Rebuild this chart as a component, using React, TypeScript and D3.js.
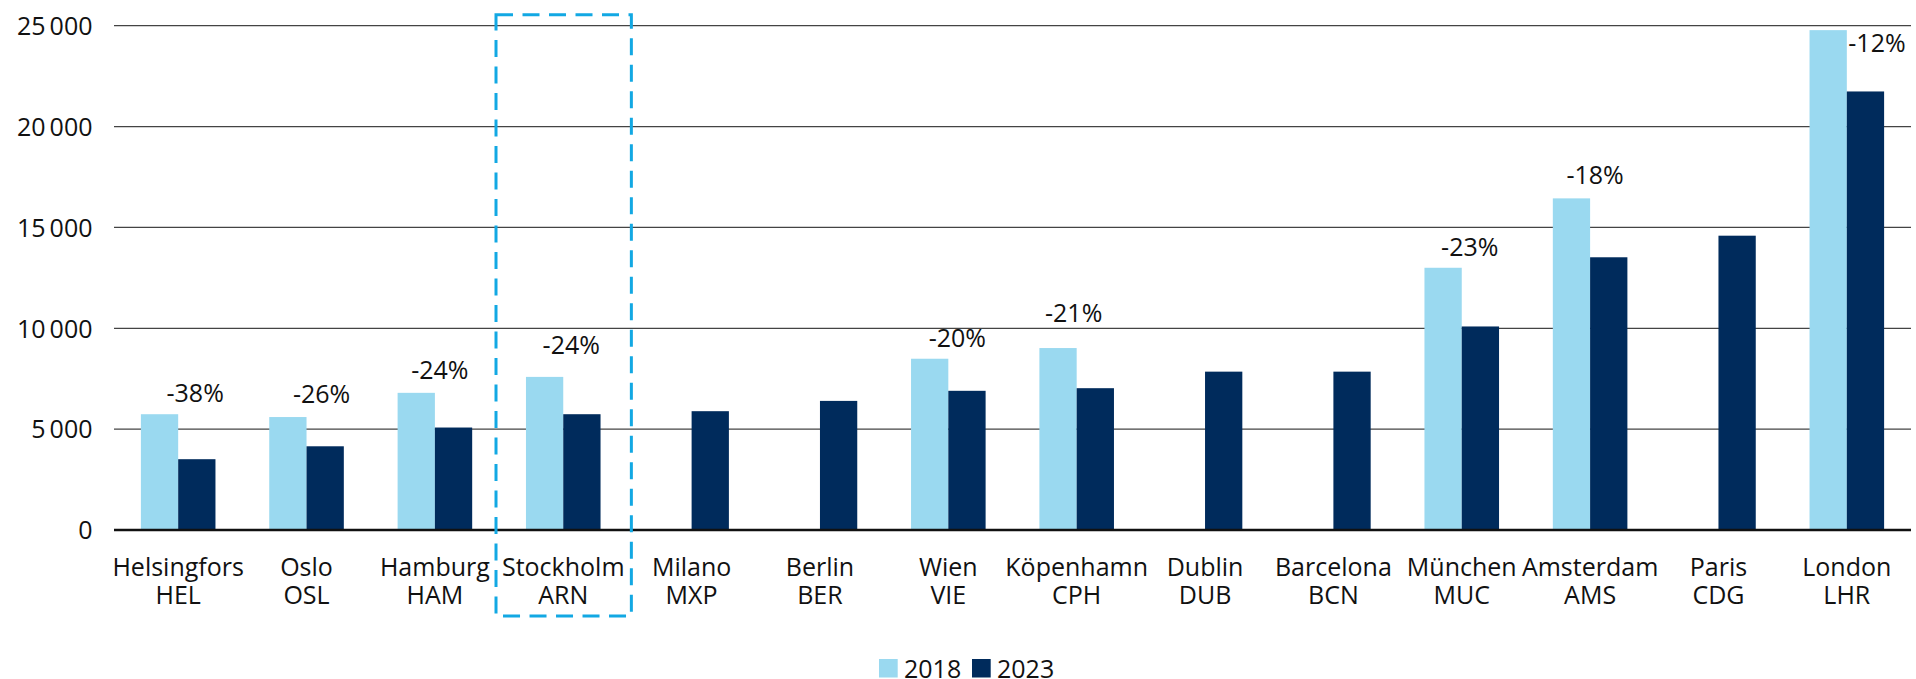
import * as d3 from "d3";

// airport categories (city + IATA code)
const cities = ["Helsingfors", "Oslo", "Hamburg", "Stockholm", "Milano", "Berlin", "Wien", "Köpenhamn", "Dublin", "Barcelona", "München", "Amsterdam", "Paris", "London"];
const codes = ["HEL", "OSL", "HAM", "ARN", "MXP", "BER", "VIE", "CPH", "DUB", "BCN", "MUC", "AMS", "CDG", "LHR"];

// series values
const values2018 = [5740, 5600, 6800, 7590, null, null, 8490, 9020, null, null, 13000, 16440, null, 24780];
const values2023 = [3510, 4150, 5080, 5740, 5890, 6400, 6900, 7030, 7850, 7850, 10090, 13520, 14590, 21740];

// change labels
const changeLabels = ["-38%", "-26%", "-24%", "-24%", "", "", "-20%", "-21%", "", "", "-23%", "-18%", "", "-12%"];

const yTicks = [0, 5000, 10000, 15000, 20000, 25000];
const seriesNames = ["2018", "2023"];

// hand placed label nudges [dx from group centre, dy from 2018 bar top]
const labelNudge = [[17, -12], [15, -14], [5, -14], [8, -23], [0, 0], [0, 0], [9, -12], [-3, -26], [0, 0], [0, 0], [8, -12], [5, -14], [0, 0], [0, 0]];

const W = 1916;
const H = 679;
const colors = ["#9ad9f0", "#002b5c"];
const font = "'Open Sans', sans-serif";

const locale = d3.formatLocale({ decimal: ",", thousands: "\u2009", grouping: [3], currency: ["", " kr"] });
const fmt = locale.format(",d");

export default function App() {
  const x = d3.scaleBand<string>().domain(codes).range([114, 1911]).paddingInner(0.419).paddingOuter(0.2095);
  const inner = d3.scaleBand<string>().domain(seriesNames).range([0, x.bandwidth()]);
  const y = d3.scaleLinear().domain([0, 25000]).range([530, 25.7]);

  const series = [values2018, values2023];
  const boxCode = "ARN";
  const bx = (x(boxCode) as number) - x.step() * 0.21 - 3;

  return (
    <svg width={W} height={H} style={{ position: "absolute", left: 0, top: 0, display: "block", background: "#fff" }} fontFamily={font}>
      {/* gridlines + y labels */}
      {yTicks.map((t) => (
        <g key={t}>
          {t > 0 && <line x1={114} x2={1911} y1={y(t)} y2={y(t)} stroke="#444" strokeWidth={1.3} />}
          <text x={92.5} y={y(t) + 9.3} textAnchor="end" fontSize={25} fill="#111">{fmt(t)}</text>
        </g>
      ))}

      {/* bars */}
      {codes.map((c, i) => (
        <g key={c} transform={`translate(${x(c)},0)`}>
          {series.map((s, k) => {
            const v = s[i];
            if (v == null) return null;
            return <rect key={k} x={inner(seriesNames[k])} y={y(v)} width={inner.bandwidth()} height={y(0) - y(v)} fill={colors[k]} />;
          })}
        </g>
      ))}

      {/* zero line */}
      <line x1={114} x2={1911} y1={y(0)} y2={y(0)} stroke="#111" strokeWidth={2.6} />

      {/* change labels */}
      {codes.map((c, i) => {
        const txt = changeLabels[i];
        const v = values2018[i];
        if (!txt || v == null) return null;
        const cx = (x(c) as number) + x.bandwidth() / 2;
        if (i === codes.length - 1) {
          return (
            <text key={c} x={(x(c) as number) + inner.bandwidth() + 1.5} y={y(v) + 21.7} fontSize={25} fill="#111">{txt}</text>
          );
        }
        return (
          <text key={c} x={cx + labelNudge[i][0]} y={y(v) + labelNudge[i][1]} textAnchor="middle" fontSize={25} fill="#111">{txt}</text>
        );
      })}

      {/* category labels, two lines */}
      {codes.map((c, i) => {
        const cx = (x(c) as number) + x.bandwidth() / 2;
        return (
          <g key={c}>
            <text x={cx} y={576} textAnchor="middle" fontSize={25} fill="#111">{cities[i]}</text>
            <text x={cx} y={604} textAnchor="middle" fontSize={25} fill="#111">{c}</text>
          </g>
        );
      })}

      {/* highlight box around Stockholm */}
      <rect x={bx} y={y(25000) - 11} width={x.step() + 7} height={616 - (y(25000) - 11)} fill="none" stroke="#12a8e3" strokeWidth={3} strokeDasharray="17 9.5" />

      {/* legend */}
      <g transform="translate(879,659)">
        {seriesNames.map((n, k) => (
          <g key={n} transform={`translate(${k * 93},0)`}>
            <rect x={0} y={0} width={18.7} height={18.5} fill={colors[k]} />
            <text x={25} y={19} fontSize={25} fill="#111">{n}</text>
          </g>
        ))}
      </g>
    </svg>
  );
}
